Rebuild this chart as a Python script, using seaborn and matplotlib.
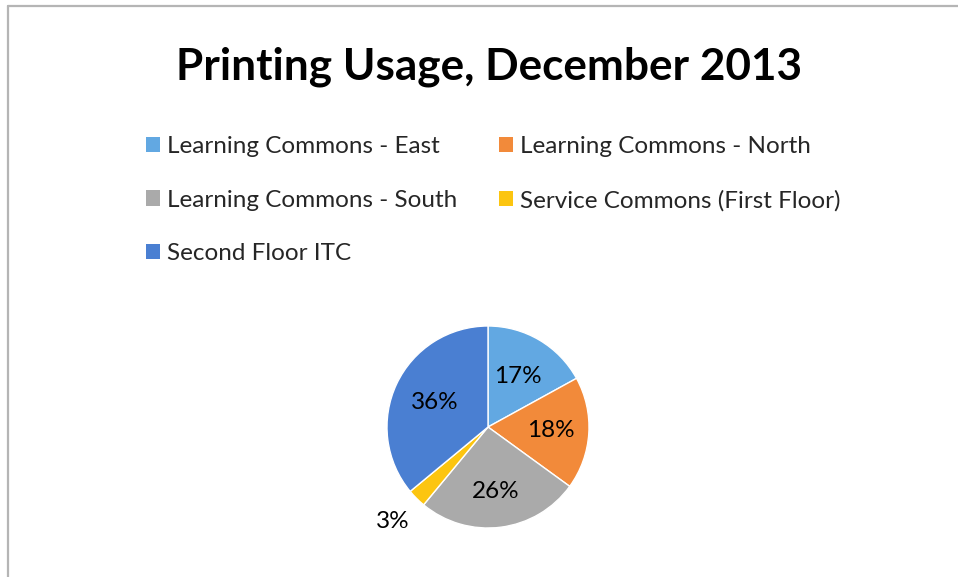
import matplotlib
matplotlib.use("Agg")
import matplotlib.pyplot as plt
from matplotlib.lines import Line2D
from matplotlib.patches import Patch
import numpy as np
import seaborn as sns

# Printing usage by location, December 2013 (percent of total)
locations = [
    "Learning Commons - East",
    "Learning Commons - North",
    "Learning Commons - South",
    "Service Commons (First Floor)",
    "Second Floor ITC",
]
shares = [17, 18, 26, 3, 36]
colors = ["#62a8e2", "#f28a3a", "#aaaaaa", "#fcc510", "#4a7fd2"]
label_radius = [0.58, 0.62, 0.64, 1.33, 0.58]

sns.set_theme(style="white")
plt.rcParams["font.family"] = ["Lato", "DejaVu Sans"]

W, H = 958, 577
fig = plt.figure(figsize=(W / 100, H / 100), dpi=100)
fig.patch.set_facecolor("white")

# chart-area border (left and top edges)
border = "#b5b5b5"
fig.add_artist(Line2D([8 / W, 8 / W], [0, 1 - 6 / H], transform=fig.transFigure,
                      color=border, lw=1.6))
fig.add_artist(Line2D([8 / W, 1], [1 - 6 / H, 1 - 6 / H], transform=fig.transFigure,
                      color=border, lw=1.6))

fig.text(489 / W, 1 - 67 / H, "Printing Usage, December 2013", ha="center", va="center",
         fontsize=31.8, fontweight="bold", color="black")

# pie
cx, cy, r = 488, 427, 101
span = 1.45
side = 2 * span * r
ax = fig.add_axes([(cx - side / 2) / W, (H - cy - side / 2) / H, side / W, side / H])
wedges, _ = ax.pie(shares, colors=colors, startangle=90, counterclock=False,
                   radius=1, wedgeprops=dict(edgecolor="white", linewidth=1))
for w, v, d in zip(wedges, shares, label_radius):
    mid = np.deg2rad((w.theta1 + w.theta2) / 2)
    ax.text(d * np.cos(mid), d * np.sin(mid), f"{v}%", ha="center", va="center",
            fontsize=17.5, color="black")
ax.set_xlim(-span, span)
ax.set_ylim(-span, span)
ax.set_aspect("equal")
ax.axis("off")

# legend, filled row by row
order = [0, 2, 4, 1, 3]
handles = [Patch(facecolor=colors[i], edgecolor="none", label=locations[i]) for i in order]
fig.legend(handles=handles, ncol=2, loc="upper left",
           bbox_to_anchor=(146 / W, 1 - 136 / H), frameon=False, fontsize=17.5,
           handlelength=0.58, handleheight=0.58, handletextpad=0.3,
           columnspacing=1.69, labelspacing=1.34, borderaxespad=0, borderpad=0)

fig.savefig("out.png", dpi=100, facecolor="white")
